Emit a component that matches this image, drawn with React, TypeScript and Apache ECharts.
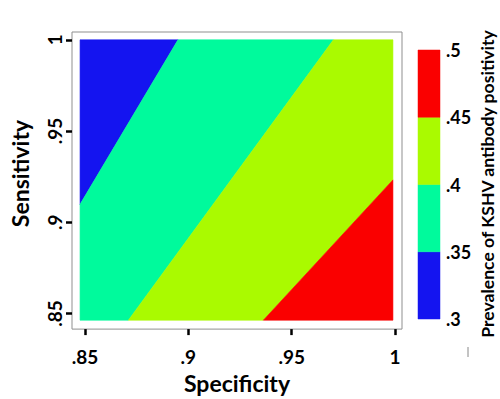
import React, { useEffect, useRef } from "react";
import * as echarts from "echarts";

// Axis ticks
const specificityTicks = [0.85, 0.9, 0.95, 1];
const sensitivityTicks = [0.85, 0.9, 0.95, 1];
// Colorbar levels (prevalence of KSHV antibody positivity)
const prevalenceLevels = [0.3, 0.35, 0.4, 0.45, 0.5];
const bandColors = ["#1414F0", "#00FA9C", "#AAFA00", "#FA0000"];

// Contour band polygons, vertices as [specificity, sensitivity]
const band030to035 = [[0.8476, 1], [0.895, 1], [0.8476, 0.9098]];
const band035to040 = [[0.895, 1], [0.9702, 1], [0.871, 0.8463], [0.8476, 0.8463], [0.8476, 0.9098]];
const band040to045 = [[0.9702, 1], [0.999, 1], [0.999, 0.9232], [0.9363, 0.8463], [0.871, 0.8463]];
const band045to050 = [[0.999, 0.9232], [0.999, 0.8463], [0.9363, 0.8463]];
const bands = [band030to035, band035to040, band040to045, band045to050];

const FONT = "Lato";

const fmt = (v: number) => {
  const s = (Math.round(v * 100) / 100).toString();
  return s.replace(/^0\./, ".");
};

export default function App() {
  const ref = useRef<HTMLDivElement>(null);
  useEffect(() => {
    if (!ref.current) return;
    const chart = echarts.init(ref.current, undefined, { renderer: "svg" });
    const tickStyle = { show: true, length: 6, lineStyle: { color: "#000", width: 2.5 } };
    const labelStyle = { color: "#000", fontFamily: FONT, fontWeight: "bold" as const, fontSize: 19 };
    const colorbarData = prevalenceLevels.slice(0, -1).map((lo, i) => [lo, prevalenceLevels[i + 1], i]);
    chart.setOption({
      animation: false,
      backgroundColor: "#fff",
      grid: [
        { left: 72, top: 32, width: 330, height: 305, show: true, borderColor: "#8f8f8f", borderWidth: 1, backgroundColor: "transparent" },
        { left: 418, top: 50, width: 22, height: 269, show: false },
      ],
      xAxis: [
        {
          type: "value",
          gridIndex: 0,
          min: 0.84371,
          max: 1.003387,
          axisLine: { show: false },
          splitLine: { show: false },
          axisTick: { ...tickStyle, customValues: specificityTicks },
          axisLabel: { ...labelStyle, customValues: specificityTicks, formatter: fmt, margin: 18 },
          name: "Specificity",
          nameLocation: "middle",
          nameGap: 37,
          nameTextStyle: { color: "#000", fontFamily: FONT, fontWeight: "bold", fontSize: 23 },
        },
        { type: "value", gridIndex: 1, min: 0, max: 1, show: false },
      ],
      yAxis: [
        {
          type: "value",
          gridIndex: 0,
          min: 0.841429,
          max: 1.004286,
          axisLine: { show: false },
          splitLine: { show: false },
          axisTick: { ...tickStyle, customValues: sensitivityTicks },
          axisLabel: { ...labelStyle, customValues: sensitivityTicks, formatter: fmt, margin: 8, rotate: 90 },
          name: "Sensitivity",
          nameLocation: "middle",
          nameGap: 41,
          nameTextStyle: { color: "#000", fontFamily: FONT, fontWeight: "bold", fontSize: 23, padding: [0, 0, 0, 14] },
        },
        {
          type: "value",
          gridIndex: 1,
          position: "right",
          min: 0.3,
          max: 0.5,
          interval: 0.05,
          axisLine: { show: false },
          axisTick: { show: false },
          splitLine: { show: false },
          axisLabel: { ...labelStyle, fontSize: 18, formatter: fmt, margin: 6 },
        },
      ],
      graphic: [
        {
          type: "text",
          x: 487,
          y: 184,
          rotation: Math.PI / 2,
          style: {
            text: "Prevalence of KSHV antibody positivity",
            fill: "#000",
            fontFamily: FONT,
            fontWeight: "bold",
            fontSize: 17.6,
            textAlign: "center",
            textVerticalAlign: "middle",
            align: "center",
            verticalAlign: "middle",
          },
        },
        { type: "line", shape: { x1: 468, y1: 347, x2: 468, y2: 357 }, style: { stroke: "#888", lineWidth: 1 } },
      ],
      series: [
        {
          type: "custom",
          xAxisIndex: 0,
          yAxisIndex: 0,
          data: bands.map((poly, i) => [poly[0][0], poly[0][1], i]),
          renderItem: (params: any, api: any) => {
            const idx = api.value(2);
            const pts = bands[idx].map((p) => api.coord(p));
            return {
              type: "polygon",
              shape: { points: pts },
              style: { fill: bandColors[idx], stroke: bandColors[idx], lineWidth: 0.6 },
            };
          },
        },
        {
          type: "custom",
          xAxisIndex: 1,
          yAxisIndex: 1,
          data: colorbarData,
          encode: { x: -1, y: [0, 1] },
          renderItem: (params: any, api: any) => {
            const lo = api.value(0);
            const hi = api.value(1);
            const idx = api.value(2);
            const a = api.coord([0, lo]);
            const b = api.coord([1, hi]);
            return {
              type: "rect",
              shape: { x: a[0], y: b[1], width: b[0] - a[0], height: a[1] - b[1] },
              style: { fill: bandColors[idx], stroke: bandColors[idx], lineWidth: 0.5 },
            };
          },
        },
      ],
    });
    return () => chart.dispose();
  }, []);
  return <div ref={ref} style={{ position: "fixed", left: 0, top: 0, width: 500, height: 399 }} />;
}
